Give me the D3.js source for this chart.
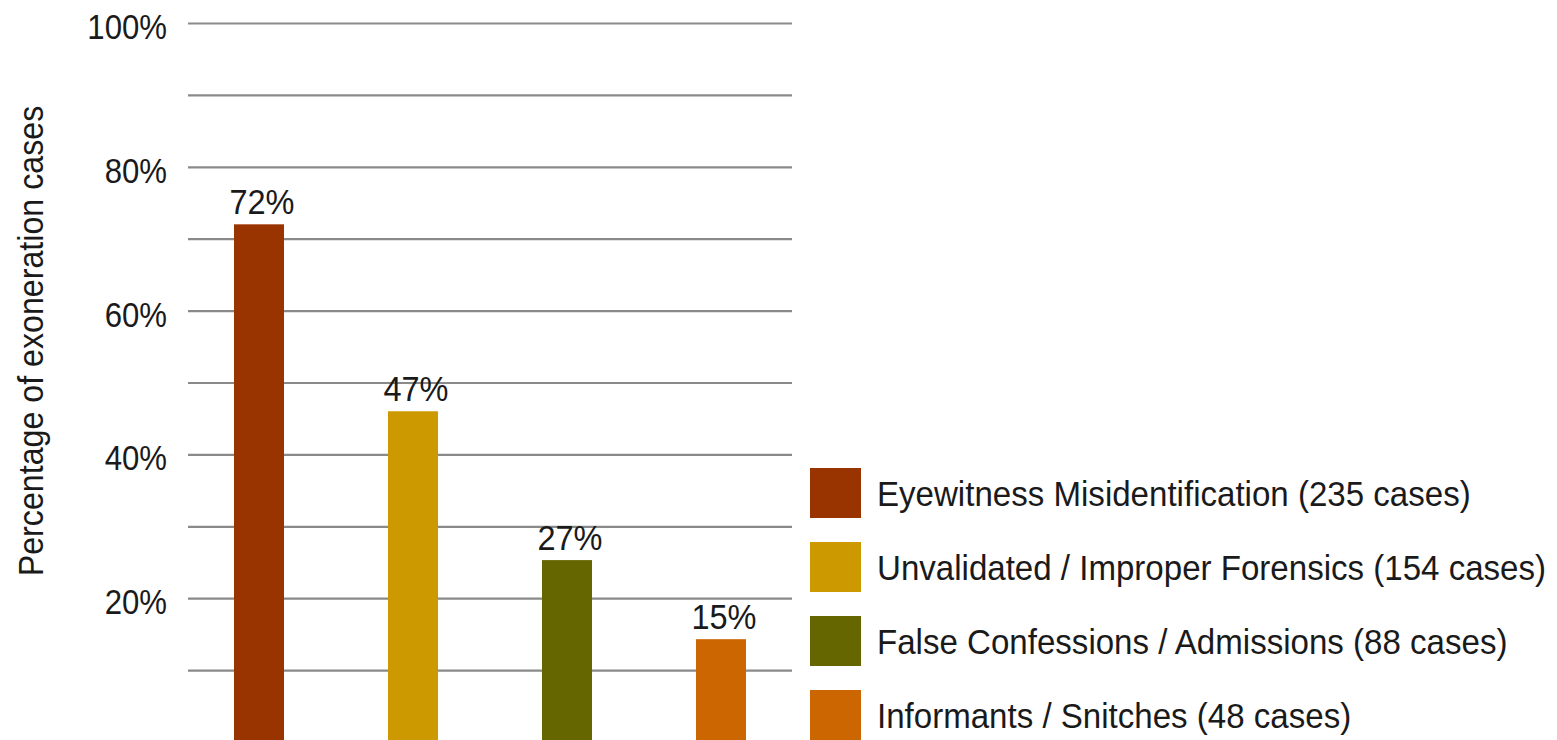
<!DOCTYPE html>
<html>
<head>
<meta charset="utf-8">
<script src="https://cdn.jsdelivr.net/npm/d3@7"></script>
<style>
  html, body { margin: 0; padding: 0; background: #fff; overflow: hidden; }
  svg { display: block; }
  text { font-family: "Liberation Sans", Arial, Helvetica, sans-serif; fill: #1a1a1a; }
</style>
</head>
<body>
<svg id="chart" width="1557" height="740"></svg>
<script>
// ---- data ----
const categories = [
  "Eyewitness Misidentification",
  "Unvalidated / Improper Forensics",
  "False Confessions / Admissions",
  "Informants / Snitches"
];
const caseCounts = [235, 154, 88, 48];
const values = [72, 46, 25.3, 14.3];            // bar heights as drawn (%)
const valueLabels = ["72%", "47%", "27%", "15%"]; // labels as printed
const colors = ["#993300", "#cc9900", "#666600", "#cc6600"];
const gridTicks = [0, 10, 20, 30, 40, 50, 60, 70, 80, 90, 100];
const labelTicks = [20, 40, 60, 80, 100];
const yTitle = "Percentage of exoneration cases";

// ---- layout ----
const svg = d3.select("#chart");
const FS = 35;
const plotLeft = 188, plotRight = 792;

const y = d3.scaleLinear().domain([0, 100]).range([742, 23]);
const x = d3.scalePoint().domain(categories).range([182, 798]).padding(0.5);
const barW = 50;

// gridlines via axis
const grid = svg.append("g")
  .attr("transform", `translate(${plotLeft},0)`)
  .call(d3.axisRight(y).tickValues(gridTicks).tickSize(plotRight - plotLeft).tickFormat(""));
grid.select(".domain").remove();
grid.selectAll(".tick line").attr("stroke", "#8a8a8a").attr("stroke-width", 2.2);

// tick labels
svg.append("g").selectAll("text")
  .data(labelTicks).join("text")
  .attr("transform", d => `translate(167,${y(d) + 16}) scale(0.89,1)`)
  .attr("text-anchor", "end")
  .attr("font-size", FS)
  .text(d => d + "%");

// y title
svg.append("text")
  .attr("transform", "translate(43,341) rotate(-90) scale(0.92,1)")
  .attr("text-anchor", "middle")
  .attr("font-size", FS)
  .text(yTitle);

// bars
svg.append("g").selectAll("rect")
  .data(categories).join("rect")
  .attr("x", d => x(d) - barW / 2)
  .attr("y", (d, i) => y(values[i]))
  .attr("width", barW)
  .attr("height", (d, i) => y(0) - y(values[i]))
  .attr("fill", (d, i) => colors[i]);

// value labels
svg.append("g").selectAll("text")
  .data(categories).join("text")
  .attr("transform", (d, i) => `translate(${x(d) + 3},${y(values[i]) - 10.5}) scale(0.93,1)`)
  .attr("text-anchor", "middle")
  .attr("font-size", FS)
  .text((d, i) => valueLabels[i]);

// legend
const legendY = d3.scalePoint().domain(categories).range([468, 690]);
const lg = svg.append("g").selectAll("g")
  .data(categories).join("g")
  .attr("transform", d => `translate(810,${legendY(d)})`);
lg.append("rect")
  .attr("width", 51).attr("height", 50)
  .attr("fill", (d, i) => colors[i]);
lg.append("text")
  .attr("transform", "translate(67,37.5) scale(0.945,1)")
  .attr("font-size", FS)
  .text((d, i) => `${d} (${caseCounts[i]} cases)`);
</script>
</body>
</html>
